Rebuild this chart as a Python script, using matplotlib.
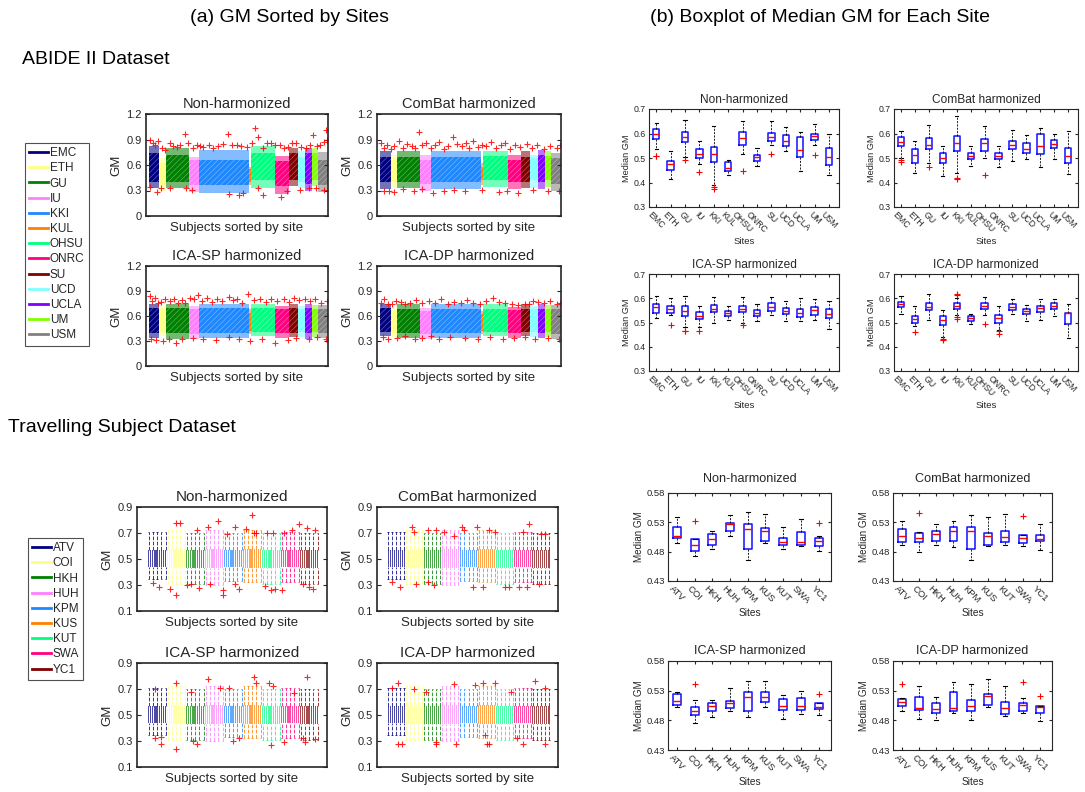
import numpy as np
import matplotlib.pyplot as plt
from matplotlib.lines import Line2D

plt.rcParams['font.family'] = ['Liberation Sans', 'DejaVu Sans']
plt.rcParams['text.color'] = '#262626'
plt.rcParams['axes.labelcolor'] = '#262626'
plt.rcParams['xtick.color'] = '#262626'
plt.rcParams['ytick.color'] = '#262626'
plt.rcParams['axes.edgecolor'] = '#262626'
plt.rcParams['hatch.linewidth'] = 0.35

# ---------------- ABIDE II ----------------
abide_sites = ['EMC', 'ETH', 'GU', 'IU', 'KKI', 'KUL', 'OHSU', 'ONRC', 'SU', 'UCD', 'UCLA', 'UM', 'USM']
abide_colors = ['#000080', '#ffff80', '#008000', '#ff80ff', '#1e88ff', '#ff8000', '#00ff80',
                '#ff0080', '#800000', '#80ffff', '#8000ff', '#80ff00', '#808080']
abide_counts = [52, 32, 107, 50, 235, 8, 118, 63, 42, 36, 32, 30, 46]

# GM range of the subjects of each site (outer = whiskers, inner = boxes)
abide_nh_band = [[0.33, 0.30, 0.33, 0.28, 0.27, 0.36, 0.33, 0.26, 0.35, 0.33, 0.29, 0.35, 0.28],
                 [0.82, 0.68, 0.80, 0.70, 0.78, 0.58, 0.82, 0.70, 0.80, 0.76, 0.80, 0.80, 0.75],
                 [0.40, 0.36, 0.40, 0.36, 0.36, 0.40, 0.42, 0.35, 0.42, 0.40, 0.38, 0.42, 0.36],
                 [0.74, 0.62, 0.72, 0.66, 0.66, 0.55, 0.74, 0.65, 0.74, 0.70, 0.74, 0.74, 0.66]]
abide_cb_band = [[0.32, 0.33, 0.33, 0.30, 0.32, 0.36, 0.34, 0.32, 0.33, 0.33, 0.32, 0.34, 0.30],
                 [0.77, 0.72, 0.76, 0.72, 0.77, 0.62, 0.76, 0.72, 0.76, 0.72, 0.78, 0.76, 0.74],
                 [0.40, 0.40, 0.40, 0.38, 0.40, 0.42, 0.42, 0.40, 0.40, 0.42, 0.40, 0.42, 0.38],
                 [0.70, 0.66, 0.70, 0.66, 0.70, 0.58, 0.70, 0.66, 0.70, 0.68, 0.72, 0.70, 0.68]]
abide_sp_band = [[0.34, 0.36, 0.33, 0.32, 0.34, 0.38, 0.36, 0.34, 0.35, 0.35, 0.33, 0.35, 0.34],
                 [0.74, 0.73, 0.74, 0.72, 0.75, 0.68, 0.74, 0.72, 0.74, 0.72, 0.74, 0.73, 0.73],
                 [0.40, 0.41, 0.40, 0.39, 0.40, 0.42, 0.41, 0.40, 0.40, 0.41, 0.40, 0.41, 0.40],
                 [0.70, 0.69, 0.70, 0.68, 0.70, 0.64, 0.70, 0.68, 0.70, 0.69, 0.70, 0.69, 0.69]]
abide_dp_band = [[0.36, 0.35, 0.34, 0.33, 0.34, 0.38, 0.36, 0.34, 0.36, 0.35, 0.34, 0.35, 0.33],
                 [0.75, 0.70, 0.74, 0.70, 0.74, 0.66, 0.74, 0.71, 0.74, 0.72, 0.74, 0.73, 0.73],
                 [0.41, 0.40, 0.40, 0.39, 0.40, 0.42, 0.41, 0.40, 0.41, 0.41, 0.40, 0.41, 0.39],
                 [0.70, 0.66, 0.69, 0.66, 0.69, 0.62, 0.69, 0.67, 0.69, 0.68, 0.69, 0.68, 0.68]]

# outlying subject GM values: (subject index, GM)
abide_nh_out = [(8, 0.90), (20, 0.86), (32, 0.835), (45, 0.88), (63, 0.80), (80, 0.78), (102, 0.855),
                (118, 0.82), (134, 0.815), (150, 0.84), (173, 0.97), (189, 0.855), (210, 0.80),
                (228, 0.835), (245, 0.82), (260, 0.815), (285, 0.83), (307, 0.80), (330, 0.82),
                (355, 0.85), (378, 0.965), (395, 0.83), (418, 0.835), (440, 0.82), (465, 0.815),
                (490, 0.86), (504, 1.03), (520, 0.935), (544, 0.80), (560, 0.86), (583, 0.855),
                (600, 0.83), (623, 0.835), (640, 0.80), (662, 0.815), (680, 0.86), (701, 0.855),
                (725, 0.815), (749, 0.80), (765, 0.84), (780, 0.95), (800, 0.82), (812, 0.835),
                (830, 0.87), (840, 1.01), (848, 0.90),
                (8, 0.345), (39, 0.285), (60, 0.33), (102, 0.33), (180, 0.33), (205, 0.305),
                (380, 0.26), (430, 0.25), (449, 0.265), (520, 0.33), (545, 0.25), (630, 0.227),
                (655, 0.30), (717, 0.305), (760, 0.33), (796, 0.325), (830, 0.31)]
abide_cb_out = [(5, 0.86), (20, 0.80), (35, 0.83), (55, 0.79), (70, 0.82), (90, 0.88), (110, 0.80),
                (130, 0.85), (150, 0.82), (165, 0.80), (185, 0.99), (200, 0.84), (220, 0.86),
                (240, 0.80), (260, 0.83), (280, 0.87), (300, 0.79), (320, 0.82), (345, 0.93),
                (365, 0.85), (385, 0.82), (405, 0.86), (420, 0.80), (440, 0.88), (460, 0.81),
                (480, 0.84), (500, 0.82), (525, 0.87), (545, 0.80), (570, 0.83), (590, 0.86),
                (610, 0.79), (635, 0.84), (660, 0.81), (690, 0.85), (715, 0.80), (740, 0.83),
                (770, 0.79), (800, 0.82), (830, 0.80), (848, 0.84),
                (20, 0.29), (45, 0.30), (70, 0.28), (110, 0.32), (160, 0.29), (200, 0.32),
                (250, 0.27), (300, 0.30), (350, 0.31), (400, 0.29), (480, 0.31), (560, 0.28),
                (600, 0.30), (650, 0.27), (720, 0.31), (790, 0.29), (840, 0.30)]
abide_sp_out = [(5, 0.84), (18, 0.78), (30, 0.82), (45, 0.76), (60, 0.77), (80, 0.80), (100, 0.78),
                (120, 0.81), (140, 0.76), (160, 0.79), (175, 0.76), (195, 0.82), (215, 0.80),
                (235, 0.85), (255, 0.78), (275, 0.82), (300, 0.77), (325, 0.80), (350, 0.78),
                (380, 0.83), (400, 0.79), (420, 0.81), (445, 0.76), (470, 0.86), (500, 0.79),
                (530, 0.80), (555, 0.77), (580, 0.81), (610, 0.78), (640, 0.80), (665, 0.77),
                (690, 0.82), (715, 0.79), (740, 0.80), (765, 0.78), (790, 0.80), (820, 0.76),
                (845, 0.78),
                (10, 0.33), (35, 0.31), (70, 0.30), (95, 0.32), (130, 0.28), (160, 0.33),
                (210, 0.34), (260, 0.32), (320, 0.31), (380, 0.35), (430, 0.33), (480, 0.30),
                (540, 0.33), (600, 0.28), (660, 0.31), (700, 0.34), (760, 0.33), (800, 0.35),
                (840, 0.32)]
abide_dp_out = [(5, 0.76), (20, 0.80), (40, 0.74), (58, 0.75), (75, 0.78), (100, 0.77), (120, 0.74),
                (145, 0.76), (170, 0.79), (200, 0.76), (230, 0.78), (260, 0.76), (290, 0.80),
                (320, 0.75), (350, 0.77), (380, 0.76), (410, 0.79), (440, 0.76), (470, 0.74),
                (500, 0.78), (530, 0.82), (560, 0.77), (590, 0.76), (620, 0.75), (650, 0.73),
                (680, 0.74), (700, 0.75), (720, 0.78), (745, 0.77), (770, 0.76), (800, 0.78),
                (830, 0.74), (848, 0.76),
                (15, 0.35), (40, 0.33), (80, 0.34), (120, 0.36), (165, 0.32), (200, 0.34),
                (240, 0.36), (280, 0.33), (330, 0.35), (400, 0.34), (460, 0.33), (520, 0.35),
                (580, 0.32), (630, 0.34), (680, 0.35), (730, 0.33), (790, 0.34), (840, 0.32)]

# median GM per site: whisker low, q1, median, q3, whisker high; then outliers
abide_nh_box = [[0.536, 0.416, 0.505, 0.475, 0.389, 0.430, 0.516, 0.466, 0.553, 0.528, 0.445, 0.553, 0.432],
                [0.576, 0.450, 0.566, 0.500, 0.482, 0.445, 0.553, 0.487, 0.570, 0.547, 0.505, 0.573, 0.471],
                [0.598, 0.475, 0.584, 0.518, 0.516, 0.458, 0.580, 0.503, 0.587, 0.570, 0.533, 0.590, 0.505],
                [0.619, 0.487, 0.607, 0.535, 0.544, 0.483, 0.607, 0.514, 0.603, 0.594, 0.587, 0.600, 0.539],
                [0.641, 0.529, 0.656, 0.569, 0.629, 0.493, 0.652, 0.539, 0.652, 0.626, 0.607, 0.637, 0.600]]
abide_nh_fl = [[0.510, 0.507], [], [0.492], [0.443], [0.380, 0.374], [], [0.447], [], [0.518], [], [], [0.514], []]
abide_cb_box = [[0.500, 0.437, 0.480, 0.425, 0.440, 0.468, 0.500, 0.462, 0.487, 0.495, 0.465, 0.497, 0.433],
                [0.550, 0.480, 0.535, 0.480, 0.530, 0.495, 0.528, 0.497, 0.535, 0.520, 0.515, 0.540, 0.480],
                [0.567, 0.512, 0.553, 0.500, 0.562, 0.510, 0.560, 0.507, 0.552, 0.538, 0.548, 0.557, 0.510],
                [0.585, 0.537, 0.582, 0.520, 0.590, 0.520, 0.578, 0.520, 0.570, 0.562, 0.600, 0.572, 0.540],
                [0.612, 0.570, 0.635, 0.550, 0.672, 0.550, 0.632, 0.550, 0.614, 0.595, 0.622, 0.600, 0.610]]
abide_cb_fl = [[0.492, 0.483], [], [0.465], [], [0.420, 0.415], [], [0.430], [], [], [], [], [], []]
abide_sp_box = [[0.520, 0.530, 0.480, 0.480, 0.500, 0.512, 0.500, 0.505, 0.530, 0.505, 0.505, 0.512, 0.475],
                [0.540, 0.540, 0.525, 0.515, 0.545, 0.527, 0.545, 0.527, 0.548, 0.537, 0.523, 0.530, 0.520],
                [0.562, 0.555, 0.548, 0.527, 0.557, 0.540, 0.557, 0.538, 0.565, 0.548, 0.540, 0.550, 0.537],
                [0.575, 0.570, 0.567, 0.545, 0.573, 0.547, 0.570, 0.552, 0.580, 0.560, 0.557, 0.565, 0.555],
                [0.610, 0.600, 0.608, 0.570, 0.607, 0.567, 0.607, 0.578, 0.607, 0.588, 0.600, 0.595, 0.588]]
abide_sp_fl = [[], [0.490], [0.467, 0.463], [0.467], [], [], [0.490], [], [], [], [], [], []]
abide_dp_box = [[0.535, 0.485, 0.512, 0.440, 0.530, 0.495, 0.530, 0.470, 0.535, 0.505, 0.510, 0.527, 0.435],
                [0.562, 0.500, 0.550, 0.490, 0.555, 0.508, 0.555, 0.500, 0.550, 0.535, 0.545, 0.555, 0.495],
                [0.577, 0.513, 0.562, 0.510, 0.570, 0.517, 0.568, 0.518, 0.565, 0.547, 0.560, 0.567, 0.538],
                [0.585, 0.527, 0.580, 0.525, 0.580, 0.525, 0.580, 0.530, 0.575, 0.557, 0.570, 0.580, 0.540],
                [0.610, 0.568, 0.617, 0.552, 0.600, 0.535, 0.607, 0.567, 0.598, 0.573, 0.595, 0.595, 0.577]]
abide_dp_fl = [[], [0.462], [], [0.432, 0.427], [0.618, 0.612, 0.523, 0.515], [], [0.495], [0.463, 0.453],
               [], [], [], [], []]

# ---------------- Travelling subjects ----------------
trav_sites = ['ATV', 'COI', 'HKH', 'HUH', 'KPM', 'KUS', 'KUT', 'SWA', 'YC1']
trav_colors = ['#000080', '#ffff80', '#008000', '#ff80ff', '#1e88ff', '#ff8000', '#00ff80', '#ff0080', '#800000']
trav_n_subj = 9
# typical subject box per site: whisker low, q1, median, q3, whisker high
trav_subj_box = [[0.35, 0.31, 0.31, 0.30, 0.33, 0.32, 0.31, 0.32, 0.31],
                 [0.44, 0.43, 0.43, 0.43, 0.44, 0.43, 0.43, 0.44, 0.43],
                 [0.50, 0.50, 0.50, 0.50, 0.50, 0.50, 0.50, 0.50, 0.50],
                 [0.57, 0.58, 0.57, 0.58, 0.57, 0.58, 0.57, 0.57, 0.57],
                 [0.71, 0.72, 0.70, 0.72, 0.70, 0.72, 0.70, 0.71, 0.70]]
trav_nh_out = [(2, 0.318), (5, 0.285), (10, 0.272), (13, 0.22), (13, 0.777), (15, 0.78), (18, 0.297),
               (20, 0.31), (23, 0.72), (24, 0.28), (28, 0.75), (29, 0.31), (33, 0.79), (35, 0.26),
               (35, 0.22), (37, 0.695), (41, 0.75), (41, 0.305), (43, 0.27), (46, 0.73), (49, 0.835),
               (50, 0.70), (51, 0.70), (55, 0.29), (56, 0.70), (58, 0.26), (59, 0.70), (60, 0.27),
               (63, 0.26), (64, 0.70), (68, 0.72), (71, 0.77), (73, 0.31), (75, 0.74), (76, 0.285),
               (79, 0.72), (78, 0.27)]
trav_cb_out = [(2, 0.323), (6, 0.285), (12, 0.745), (13, 0.71), (14, 0.31), (20, 0.32), (20, 0.72),
               (23, 0.30), (24, 0.72), (28, 0.71), (33, 0.68), (37, 0.745), (38, 0.72), (42, 0.285),
               (44, 0.745), (47, 0.285), (50, 0.72), (53, 0.71), (58, 0.285), (60, 0.285), (65, 0.285),
               (67, 0.71), (69, 0.285), (70, 0.77), (76, 0.695), (75, 0.31), (78, 0.695)]
trav_sp_out = [(3, 0.70), (3, 0.32), (6, 0.33), (6, 0.28), (13, 0.75), (13, 0.24), (20, 0.68),
               (21, 0.30), (23, 0.28), (28, 0.78), (34, 0.705), (38, 0.705), (40, 0.30), (43, 0.32),
               (50, 0.79), (51, 0.745), (57, 0.75), (58, 0.27), (59, 0.72), (64, 0.29), (69, 0.67),
               (73, 0.32), (74, 0.29), (75, 0.79), (79, 0.315)]
trav_dp_out = [(2, 0.705), (5, 0.745), (5, 0.28), (7, 0.28), (13, 0.70), (19, 0.68), (24, 0.28),
               (24, 0.29), (33, 0.74), (34, 0.28), (43, 0.73), (47, 0.745), (48, 0.35), (49, 0.28),
               (50, 0.28), (53, 0.75), (61, 0.68), (64, 0.32), (67, 0.28), (73, 0.765), (78, 0.705),
               (78, 0.28)]

trav_nh_box = [[0.495, 0.472, 0.485, 0.506, 0.465, 0.494, 0.484, 0.490, 0.481],
               [0.504, 0.481, 0.492, 0.515, 0.485, 0.498, 0.491, 0.492, 0.490],
               [0.506, 0.492, 0.501, 0.527, 0.518, 0.516, 0.496, 0.496, 0.499],
               [0.522, 0.501, 0.510, 0.529, 0.527, 0.520, 0.503, 0.514, 0.504],
               [0.539, 0.502, 0.515, 0.542, 0.548, 0.544, 0.522, 0.535, 0.506]]
trav_nh_fl = [[], [0.533], [], [], [], [], [], [], [0.529]]
trav_cb_box = [[0.491, 0.479, 0.492, 0.488, 0.465, 0.489, 0.491, 0.489, 0.482],
               [0.496, 0.496, 0.499, 0.498, 0.484, 0.492, 0.496, 0.494, 0.498],
               [0.506, 0.503, 0.510, 0.516, 0.515, 0.507, 0.505, 0.504, 0.502],
               [0.518, 0.512, 0.516, 0.522, 0.522, 0.511, 0.515, 0.508, 0.509],
               [0.532, 0.513, 0.527, 0.533, 0.542, 0.539, 0.545, 0.508, 0.528]]
trav_cb_fl = [[], [0.546], [], [], [], [], [], [0.541], []]
trav_sp_box = [[0.503, 0.476, 0.486, 0.495, 0.486, 0.503, 0.482, 0.491, 0.489],
               [0.506, 0.489, 0.495, 0.500, 0.495, 0.511, 0.497, 0.497, 0.499],
               [0.513, 0.496, 0.504, 0.510, 0.520, 0.520, 0.505, 0.505, 0.503],
               [0.525, 0.502, 0.509, 0.513, 0.527, 0.527, 0.516, 0.518, 0.509],
               [0.527, 0.515, 0.515, 0.534, 0.547, 0.547, 0.522, 0.529, 0.510]]
trav_sp_fl = [[], [0.542], [], [], [], [], [], [], [0.524]]
trav_dp_box = [[0.496, 0.483, 0.481, 0.493, 0.481, 0.503, 0.487, 0.492, 0.479],
               [0.505, 0.497, 0.493, 0.496, 0.496, 0.506, 0.490, 0.496, 0.493],
               [0.511, 0.501, 0.499, 0.500, 0.505, 0.521, 0.501, 0.506, 0.503],
               [0.516, 0.519, 0.510, 0.527, 0.515, 0.525, 0.511, 0.510, 0.505],
               [0.517, 0.538, 0.519, 0.545, 0.542, 0.550, 0.538, 0.518, 0.505]]
trav_dp_fl = [[0.541], [], [], [], [], [], [], [0.544], [0.521]]


W, H = 1085, 792
fig = plt.figure(figsize=(W / 100, H / 100), dpi=100)


def px_axes(l, t, r, b):
    return fig.add_axes([l / W, 1 - b / H, (r - l) / W, (b - t) / H])


def style_gm_axes(ax, title, fs_title):
    ax.set_xticks([])
    ax.tick_params(axis='y', direction='in', labelsize=8, length=3, right=True, pad=3)
    ax.set_ylabel('GM', fontsize=9.5, labelpad=3)
    ax.set_xlabel('Subjects sorted by site', fontsize=9.5, labelpad=4)
    ax.set_title(title, fontsize=fs_title, pad=4)
    for s in ax.spines.values():
        s.set_linewidth(1.2)


def abide_gm_panel(rect, title, band, outliers):
    ax = px_axes(*rect)
    starts = np.concatenate([[0], np.cumsum(abide_counts)[:-1]])
    lo, hi, in_lo, in_hi = [np.array(r) for r in band]
    ax.bar(starts, hi - lo, width=abide_counts, bottom=lo, align='edge',
           color=abide_colors, alpha=0.55, lw=0)
    ax.bar(starts, in_hi - in_lo, width=abide_counts, bottom=in_lo, align='edge',
           color=abide_colors, lw=0)
    ax.bar(starts, in_hi - in_lo, width=abide_counts, bottom=in_lo, align='edge',
           color='none', edgecolor='white', lw=0, hatch='//////', alpha=0.5)
    ox, oy = zip(*outliers)
    ax.plot(ox, oy, ls='none', marker='+', color='red', ms=5, mew=0.8, alpha=0.85)
    ax.set_xlim(-12, sum(abide_counts))
    ax.set_ylim(0, 1.2)
    ax.set_yticks([0, 0.3, 0.6, 0.9, 1.2])
    ax.set_yticklabels(['0', '0.3', '0.6', '0.9', '1.2'])
    style_gm_axes(ax, title, 10.5)


def travel_gm_panel(rect, title, outliers):
    ax = px_axes(*rect)
    wlo, q1, med, q3, whi = trav_subj_box
    for i, c in enumerate(trav_colors):
        pos = np.arange(trav_n_subj) + i * trav_n_subj
        ax.bar(pos, q3[i] - q1[i], bottom=q1[i], width=0.55, color=c, alpha=0.7, lw=0)
        ax.vlines(pos[::2], q3[i], whi[i], colors=c, linestyles='--', lw=0.7, alpha=0.8)
        ax.vlines(pos[::2], wlo[i], q1[i], colors=c, linestyles='--', lw=0.7, alpha=0.8)
        ax.hlines([whi[i]] * len(pos[::2]), pos[::2] - 0.35, pos[::2] + 0.35, colors=c, lw=0.7, alpha=0.8)
        ax.hlines([wlo[i]] * len(pos[::2]), pos[::2] - 0.35, pos[::2] + 0.35, colors=c, lw=0.7, alpha=0.8)
    ox, oy = zip(*outliers)
    ax.plot(ox, oy, ls='none', marker='+', color='red', ms=5, mew=0.8, alpha=0.85)
    ax.set_xlim(-5.5, 84.5)
    ax.set_ylim(0.1, 0.9)
    ax.set_yticks([0.1, 0.3, 0.5, 0.7, 0.9])
    style_gm_axes(ax, title, 11)


def median_panel(rect, title, sites, box, fliers, ylim, yticks, ylabels, fs, tpad):
    ax = px_axes(*rect)
    wlo, q1, med, q3, whi = box
    stats = [dict(whislo=wlo[i], q1=q1[i], med=med[i], q3=q3[i], whishi=whi[i], fliers=fliers[i])
             for i in range(len(sites))]
    ax.bxp(stats, positions=np.arange(1, len(sites) + 1), widths=0.45, capwidths=0.22,
           boxprops=dict(color='#1010ff', lw=1.1),
           medianprops=dict(color='red', lw=1.0),
           whiskerprops=dict(color='black', ls=(0, (2.5, 1.5)), lw=0.6),
           capprops=dict(color='black', lw=0.8),
           flierprops=dict(marker='+', markeredgecolor='red', markersize=4, mew=0.8, ls='none'))
    ax.set_xlim(0.5, len(sites) + 0.7)
    ax.set_ylim(*ylim)
    ax.set_yticks(yticks)
    ax.set_yticklabels(ylabels)
    ax.set_xticks(np.arange(1, len(sites) + 1))
    ax.set_xticklabels(sites, rotation=-45, ha='center', va='top', fontsize=fs)
    ax.tick_params(direction='in', length=2, labelsize=fs, top=True, right=True, pad=2)
    ax.set_ylabel('Median GM', fontsize=fs + 0.3, labelpad=2)
    ax.set_xlabel('Sites', fontsize=fs + 0.5, labelpad=2)
    ax.set_title(title, fontsize=fs + 2.3, pad=tpad)
    for s in ax.spines.values():
        s.set_linewidth(0.8)


titles = ['Non-harmonized', 'ComBat harmonized', 'ICA-SP harmonized', 'ICA-DP harmonized']

# (a) GM sorted by sites
abide_gm_panel((146, 114, 328, 216), titles[0], abide_nh_band, abide_nh_out)
abide_gm_panel((377, 114, 561, 216), titles[1], abide_cb_band, abide_cb_out)
abide_gm_panel((146, 266, 328, 366), titles[2], abide_sp_band, abide_sp_out)
abide_gm_panel((377, 266, 561, 366), titles[3], abide_dp_band, abide_dp_out)

travel_gm_panel((137, 507, 327, 611), titles[0], trav_nh_out)
travel_gm_panel((377, 507, 558, 611), titles[1], trav_cb_out)
travel_gm_panel((137, 663, 327, 767), titles[2], trav_sp_out)
travel_gm_panel((377, 663, 558, 767), titles[3], trav_dp_out)

# (b) boxplots of median GM
ab_ticks = [0.3, 0.4, 0.5, 0.6, 0.7]
ab_lab = ['0.3', '0.4', '0.5', '0.6', '0.7']
median_panel((649, 109, 839, 207), titles[0], abide_sites, abide_nh_box, abide_nh_fl, (0.3, 0.7), ab_ticks, ab_lab, 6.3, 4)
median_panel((894, 109, 1078, 207), titles[1], abide_sites, abide_cb_box, abide_cb_fl, (0.3, 0.7), ab_ticks, ab_lab, 6.3, 4)
median_panel((649, 274, 839, 371), titles[2], abide_sites, abide_sp_box, abide_sp_fl, (0.3, 0.7), ab_ticks, ab_lab, 6.3, 4)
median_panel((894, 274, 1078, 371), titles[3], abide_sites, abide_dp_box, abide_dp_fl, (0.3, 0.7), ab_ticks, ab_lab, 6.3, 4)

tr_ticks = [0.43, 0.48, 0.53, 0.58]
tr_lab = ['0.43', '0.48', '0.53', '0.58']
median_panel((668, 493, 831, 581), titles[0], trav_sites, trav_nh_box, trav_nh_fl, (0.43, 0.58), tr_ticks, tr_lab, 6.8, 8)
median_panel((893, 493, 1052, 581), titles[1], trav_sites, trav_cb_box, trav_cb_fl, (0.43, 0.58), tr_ticks, tr_lab, 6.8, 8)
median_panel((668, 661, 831, 750), titles[2], trav_sites, trav_sp_box, trav_sp_fl, (0.43, 0.58), tr_ticks, tr_lab, 6.8, 5)
median_panel((893, 661, 1052, 750), titles[3], trav_sites, trav_dp_box, trav_dp_fl, (0.43, 0.58), tr_ticks, tr_lab, 6.8, 5)

# legends
for sites, colors, left, top in [(abide_sites, abide_colors, 25, 143), (trav_sites, trav_colors, 28, 538)]:
    handles = [Line2D([], [], color=c, lw=2) for c in colors]
    leg = fig.legend(handles, sites, loc='upper left', bbox_to_anchor=(left / W, 1 - top / H),
                     fontsize=8.5, handlelength=1.6, handletextpad=0.15, labelspacing=0.27,
                     borderpad=0.35, borderaxespad=0, frameon=True, fancybox=False)
    leg.get_frame().set_edgecolor('#262626')
    leg.get_frame().set_linewidth(0.8)

# headings
fig.text(290 / W, 1 - 18 / H, '(a) GM Sorted by Sites', fontsize=14, ha='center', va='center', color='black')
fig.text(820 / W, 1 - 18 / H, '(b) Boxplot of Median GM for Each Site', fontsize=14, ha='center', va='center', color='black')
fig.text(22 / W, 1 - 60 / H, 'ABIDE II Dataset', fontsize=14, ha='left', va='center', color='black')
fig.text(8 / W, 1 - 427 / H, 'Travelling Subject Dataset', fontsize=14, ha='left', va='center', color='black')

fig.savefig('out.png', dpi=100)
